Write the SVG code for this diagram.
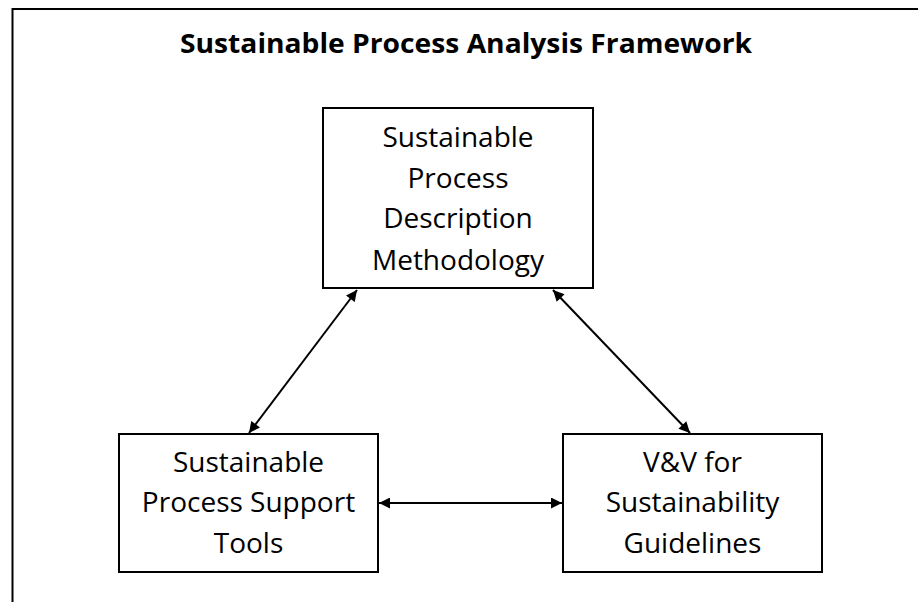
<svg xmlns="http://www.w3.org/2000/svg" width="918" height="602" viewBox="0 0 918 602">
<style>
.box{fill:#fff;stroke:#000;stroke-width:2}
.lbl{font-family:"Open Sans","Liberation Sans",sans-serif;font-size:28px;fill:#000;text-anchor:middle}
.title{font-family:"Open Sans","Liberation Sans",sans-serif;font-size:26px;font-weight:bold;fill:#000;text-anchor:middle}
.conn{stroke:#000;stroke-width:2;fill:none;marker-start:url(#ah);marker-end:url(#ah)}
</style>
<defs>
<marker id="ah" viewBox="0 0 10 10" refX="10" refY="5" markerWidth="12" markerHeight="11" markerUnits="userSpaceOnUse" orient="auto-start-reverse">
<path d="M0,0 L10,5 L0,10 z" fill="#000"/>
</marker>
</defs>
<rect width="918" height="602" fill="#fff"/>
<g id="frame">
<rect x="12.5" y="9" width="1000" height="700" fill="none" stroke="#000" stroke-width="2"/>
<text class="title" x="466" y="53" textLength="572" lengthAdjust="spacingAndGlyphs">Sustainable Process Analysis Framework</text>
</g>
<g id="connectors">
<line class="conn" x1="249" y1="433" x2="357" y2="290"/>
<line class="conn" x1="690" y1="433" x2="553" y2="290"/>
<line class="conn" x1="379" y1="503" x2="562" y2="503"/>
</g>
<g id="node-description">
<rect class="box" x="323" y="108" width="270" height="180"/>
<text class="lbl" x="458" y="147">Sustainable</text>
<text class="lbl" x="458" y="188">Process</text>
<text class="lbl" x="458" y="228">Description</text>
<text class="lbl" x="458" y="270">Methodology</text>
</g>
<g id="node-tools">
<rect class="box" x="119" y="434" width="259" height="138"/>
<text class="lbl" x="248.5" y="472">Sustainable</text>
<text class="lbl" x="248.5" y="512">Process Support</text>
<text class="lbl" x="248.5" y="553">Tools</text>
</g>
<g id="node-vv">
<rect class="box" x="563" y="434" width="259" height="138"/>
<text class="lbl" x="692.5" y="472">V&amp;V for</text>
<text class="lbl" x="692.5" y="512">Sustainability</text>
<text class="lbl" x="692.5" y="553">Guidelines</text>
</g>
</svg>
